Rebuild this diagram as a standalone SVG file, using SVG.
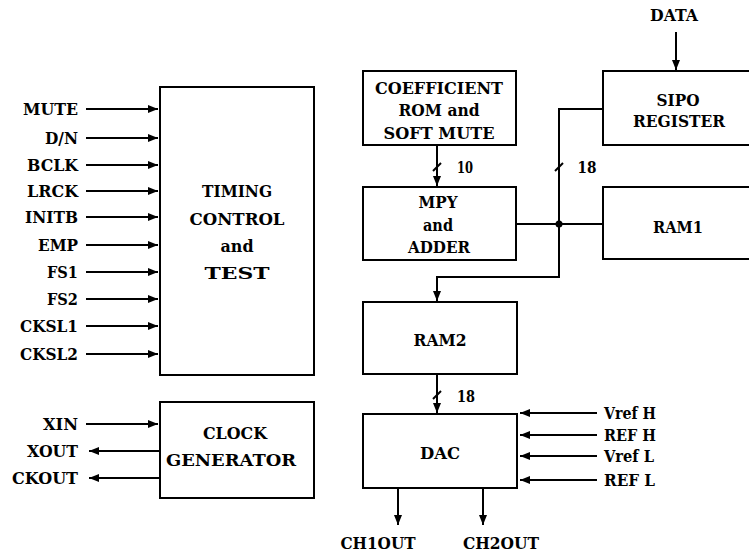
<svg xmlns="http://www.w3.org/2000/svg" width="749" height="555" viewBox="0 0 749 555">
<style>
.box{fill:#fff;stroke:#000;stroke-width:2}
.ln{fill:none;stroke:#000;stroke-width:2}
.arr{marker-end:url(#ah)}
text{font-family:"DejaVu Serif","Liberation Serif",serif;font-weight:bold;font-size:16px;fill:#000}
.e{text-anchor:end}
.m{text-anchor:middle}
</style>
<defs>
<marker id="ah" markerUnits="userSpaceOnUse" markerWidth="10" markerHeight="8" refX="10" refY="4" orient="auto">
<path d="M0,0 L10,4 L0,8 z" fill="#000"/>
</marker>
</defs>
<rect width="749" height="555" fill="#fff"/>

<g id="connectors">
<line class="ln arr" x1="86" y1="109" x2="158" y2="109"/>
<line class="ln arr" x1="86" y1="138" x2="158" y2="138"/>
<line class="ln arr" x1="86" y1="165" x2="158" y2="165"/>
<line class="ln arr" x1="86" y1="191" x2="158" y2="191"/>
<line class="ln arr" x1="86" y1="217" x2="158" y2="217"/>
<line class="ln arr" x1="86" y1="245" x2="158" y2="245"/>
<line class="ln arr" x1="86" y1="272" x2="158" y2="272"/>
<line class="ln arr" x1="86" y1="299" x2="158" y2="299"/>
<line class="ln arr" x1="86" y1="326" x2="158" y2="326"/>
<line class="ln arr" x1="86" y1="354" x2="158" y2="354"/>
<line class="ln arr" x1="86" y1="424" x2="158" y2="424"/>
<line class="ln arr" x1="159" y1="451" x2="89" y2="451"/>
<line class="ln arr" x1="159" y1="478" x2="89" y2="478"/>
<line class="ln arr" x1="676" y1="32" x2="676" y2="70"/>
<line class="ln arr" x1="437" y1="145" x2="437" y2="186"/>
<path class="ln arr" d="M603,109 H559 V277 H437 V301"/>
<line class="ln" x1="516" y1="224" x2="603" y2="224"/>
<circle cx="559" cy="224" r="3.5" fill="#000"/>
<line class="ln arr" x1="437" y1="374" x2="437" y2="413"/>
<line class="ln" x1="433" y1="171" x2="441" y2="163"/>
<line class="ln" x1="555" y1="171" x2="563" y2="163"/>
<line class="ln" x1="433" y1="399" x2="441" y2="391"/>
<line class="ln arr" x1="597" y1="413" x2="520" y2="413"/>
<line class="ln arr" x1="597" y1="435" x2="520" y2="435"/>
<line class="ln arr" x1="597" y1="456" x2="520" y2="456"/>
<line class="ln arr" x1="597" y1="480" x2="520" y2="480"/>
<line class="ln arr" x1="398" y1="488" x2="398" y2="525"/>
<line class="ln arr" x1="483" y1="488" x2="483" y2="525"/>
</g>

<g id="inputs-left">
<text class="e" x="78" y="115" textLength="55" lengthAdjust="spacingAndGlyphs">MUTE</text>
<text class="e" x="78" y="144" textLength="33" lengthAdjust="spacingAndGlyphs">D/N</text>
<text class="e" x="78" y="171" textLength="51" lengthAdjust="spacingAndGlyphs">BCLK</text>
<text class="e" x="78" y="197" textLength="51" lengthAdjust="spacingAndGlyphs">LRCK</text>
<text class="e" x="78" y="223" textLength="53" lengthAdjust="spacingAndGlyphs">INITB</text>
<text class="e" x="78" y="251" textLength="40" lengthAdjust="spacingAndGlyphs">EMP</text>
<text class="e" x="78" y="278" textLength="31" lengthAdjust="spacingAndGlyphs">FS1</text>
<text class="e" x="78" y="305" textLength="31" lengthAdjust="spacingAndGlyphs">FS2</text>
<text class="e" x="78" y="332" textLength="58" lengthAdjust="spacingAndGlyphs">CKSL1</text>
<text class="e" x="78" y="360" textLength="58" lengthAdjust="spacingAndGlyphs">CKSL2</text>
<text class="e" x="78" y="430" textLength="35" lengthAdjust="spacingAndGlyphs">XIN</text>
<text class="e" x="78" y="457" textLength="51" lengthAdjust="spacingAndGlyphs">XOUT</text>
<text class="e" x="78" y="484" textLength="66" lengthAdjust="spacingAndGlyphs">CKOUT</text>
</g>

<g id="timing">
<rect class="box" x="160" y="87" width="154" height="288"/>
<text class="m" x="237" y="197" textLength="70" lengthAdjust="spacingAndGlyphs">TIMING</text>
<text class="m" x="237" y="225" textLength="95" lengthAdjust="spacingAndGlyphs">CONTROL</text>
<text class="m" x="237" y="252" textLength="33" lengthAdjust="spacingAndGlyphs">and</text>
<text class="m" x="237" y="279" textLength="65" lengthAdjust="spacingAndGlyphs">TEST</text>
</g>

<g id="clock">
<rect class="box" x="160" y="402" width="154" height="96"/>
<text class="m" x="235" y="439" textLength="64" lengthAdjust="spacingAndGlyphs">CLOCK</text>
<text class="m" x="231" y="466" textLength="130" lengthAdjust="spacingAndGlyphs">GENERATOR</text>
</g>

<g id="coeff">
<rect class="box" x="363" y="71" width="153" height="74"/>
<text class="m" x="439" y="94" textLength="128" lengthAdjust="spacingAndGlyphs">COEFFICIENT</text>
<text class="m" x="439" y="116" textLength="81" lengthAdjust="spacingAndGlyphs">ROM and</text>
<text class="m" x="439" y="139" textLength="111" lengthAdjust="spacingAndGlyphs">SOFT MUTE</text>
</g>

<g id="sipo">
<rect class="box" x="603" y="71" width="160" height="74"/>
<text class="m" x="678" y="106" textLength="43" lengthAdjust="spacingAndGlyphs">SIPO</text>
<text class="m" x="679" y="127" textLength="92" lengthAdjust="spacingAndGlyphs">REGISTER</text>
</g>

<g id="data">
<text class="m" x="674" y="21" textLength="48" lengthAdjust="spacingAndGlyphs">DATA</text>
</g>

<g id="mpy">
<rect class="box" x="363" y="187" width="153" height="73"/>
<text class="m" x="438" y="208" textLength="39" lengthAdjust="spacingAndGlyphs">MPY</text>
<text class="m" x="438" y="231" textLength="30" lengthAdjust="spacingAndGlyphs">and</text>
<text class="m" x="439" y="253" textLength="62" lengthAdjust="spacingAndGlyphs">ADDER</text>
</g>

<g id="ram1">
<rect class="box" x="603" y="187" width="160" height="72"/>
<text class="m" x="678" y="233" textLength="50" lengthAdjust="spacingAndGlyphs">RAM1</text>
</g>

<g id="labels-bus">
<text class="m" x="465" y="173" textLength="16" lengthAdjust="spacingAndGlyphs">10</text>
<text class="m" x="587" y="173" textLength="19" lengthAdjust="spacingAndGlyphs">18</text>
<text class="m" x="466" y="402" textLength="18" lengthAdjust="spacingAndGlyphs">18</text>
</g>

<g id="ram2">
<rect class="box" x="363" y="302" width="154" height="72"/>
<text class="m" x="440" y="346" textLength="53" lengthAdjust="spacingAndGlyphs">RAM2</text>
</g>

<g id="dac">
<rect class="box" x="363" y="414" width="154" height="74"/>
<text class="m" x="440" y="459" textLength="40" lengthAdjust="spacingAndGlyphs">DAC</text>
</g>

<g id="refs">
<text x="604" y="419" textLength="52" lengthAdjust="spacingAndGlyphs">Vref H</text>
<text x="604" y="441" textLength="52" lengthAdjust="spacingAndGlyphs">REF H</text>
<text x="604" y="462" textLength="50" lengthAdjust="spacingAndGlyphs">Vref L</text>
<text x="604" y="486" textLength="51" lengthAdjust="spacingAndGlyphs">REF L</text>
</g>

<g id="outputs">
<text class="m" x="378" y="549" textLength="75" lengthAdjust="spacingAndGlyphs">CH1OUT</text>
<text class="m" x="501" y="549" textLength="76" lengthAdjust="spacingAndGlyphs">CH2OUT</text>
</g>
</svg>
